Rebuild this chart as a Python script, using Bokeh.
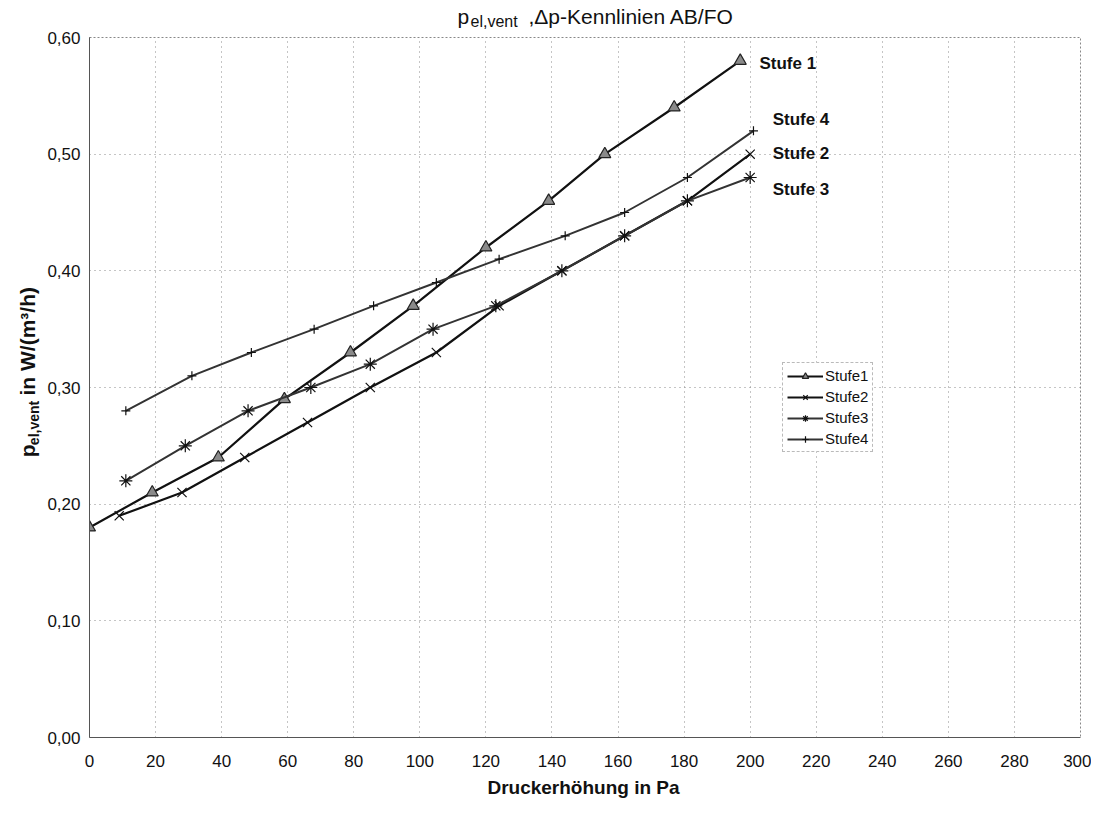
import math
from bokeh.plotting import figure
from bokeh.layouts import column, row
from bokeh.models import Range1d, Legend, LegendItem, CustomJSTickFormatter, FixedTicker, ColumnDataSource
from bokeh.core.properties import value
from bokeh.embed import file_html
from bokeh.resources import INLINE

# ---- data ----
x1 = [0, 19, 39, 59, 79, 98, 120, 139, 156, 177, 197]
y1 = [0.18, 0.21, 0.24, 0.29, 0.33, 0.37, 0.42, 0.46, 0.50, 0.54, 0.58]
x2 = [9, 28, 47, 66, 85, 105, 124, 143, 162, 181, 200]
y2 = [0.19, 0.21, 0.24, 0.27, 0.30, 0.33, 0.37, 0.40, 0.43, 0.46, 0.50]
x3 = [11, 29, 48, 67, 85, 104, 123, 143, 162, 181, 200]
y3 = [0.22, 0.25, 0.28, 0.30, 0.32, 0.35, 0.37, 0.40, 0.43, 0.46, 0.48]
x4 = [11, 31, 49, 68, 86, 105, 124, 144, 162, 181, 201]
y4 = [0.28, 0.31, 0.33, 0.35, 0.37, 0.39, 0.41, 0.43, 0.45, 0.48, 0.52]

series_names = ["Stufe1", "Stufe2", "Stufe3", "Stufe4"]
x_ticks = list(range(0, 301, 20))
y_ticks = [0.0, 0.1, 0.2, 0.3, 0.4, 0.5, 0.6]

end_labels = ["Stufe 1", "Stufe 4", "Stufe 2", "Stufe 3"]
end_label_x = [202.8, 206.8, 206.8, 206.8]
end_label_y = [0.578, 0.530, 0.501, 0.470]

title_main = "p"
title_sub = "el,vent"
title_rest = ",\u0394p-Kennlinien AB/FO"
ylab_main = "p"
ylab_sub = "el,vent"
ylab_rest = "in W/(m\u00b3/h)"
xlab = "Druckerh\u00f6hung in Pa"

FONT = "Liberation Sans"
TXT = "#111111"

W = 1091
TITLE_H = 29
MID_H = 747
XT_H = 22
YL_W = 44


def blank(w, h):
    f = figure(width=w, height=h, output_backend="svg", toolbar_location=None,
               x_range=Range1d(0, w), y_range=Range1d(0, h), min_border=0,
               x_axis_location=None, y_axis_location=None, title_location=None,
               background_fill_color="white", border_fill_color="white")
    f.grid.visible = False
    f.outline_line_color = None
    return f


# ---- main chart ----
p = figure(width=W - YL_W, height=MID_H, output_backend="svg", toolbar_location=None,
           x_range=Range1d(0, 300), y_range=Range1d(0, 0.6),
           min_border_left=45, min_border_right=11, min_border_top=8, min_border_bottom=39,
           title_location=None, background_fill_color="white", border_fill_color="white")

p.xaxis.ticker = FixedTicker(ticks=x_ticks)
p.yaxis.ticker = FixedTicker(ticks=y_ticks)
p.yaxis.formatter = CustomJSTickFormatter(code="return tick.toFixed(2).replace('.', ',');")
for ax in (p.xaxis, p.yaxis):
    ax.major_tick_out = 0
    ax.major_tick_in = 0
    ax.minor_tick_out = 0
    ax.minor_tick_in = 0
    ax.axis_line_color = "#555555"
    ax.axis_line_width = 1
    ax.major_label_text_font = FONT
    ax.major_label_text_font_size = "17px"
    ax.major_label_text_color = TXT
p.xaxis.major_label_standoff = 17
p.yaxis.major_label_standoff = 9

for g in (p.xgrid, p.ygrid):
    g.grid_line_color = "#8a8a8a"
    g.grid_line_dash = "1 4"
    g.grid_line_width = 1
p.outline_line_color = "#888888"
p.outline_line_dash = "2 2"

s1 = ColumnDataSource(dict(x=x1, y=y1))
s2 = ColumnDataSource(dict(x=x2, y=y2))
s3 = ColumnDataSource(dict(x=x3, y=y3))
s4 = ColumnDataSource(dict(x=x4, y=y4))

l1 = p.line("x", "y", source=s1, line_color="#111111", line_width=2.2)
m1 = p.scatter("x", "y", source=s1, marker="triangle", size=12, fill_color="#8a8a8a", line_color="#222222", line_width=1.2)
l2 = p.line("x", "y", source=s2, line_color="#111111", line_width=2.2)
m2 = p.scatter("x", "y", source=s2, marker="x", size=13, line_color="#111111", line_width=1.2)
l3 = p.line("x", "y", source=s3, line_color="#333333", line_width=2)
m3 = p.scatter("x", "y", source=s3, marker="asterisk", size=13, line_color="#111111", line_width=1.2)
l4 = p.line("x", "y", source=s4, line_color="#333333", line_width=2)
m4 = p.scatter("x", "y", source=s4, marker="cross", size=9, line_color="#111111", line_width=1.2)

legend = Legend(items=[
    LegendItem(label=series_names[0], renderers=[l1, m1]),
    LegendItem(label=series_names[1], renderers=[l2, m2]),
    LegendItem(label=series_names[2], renderers=[l3, m3]),
    LegendItem(label=series_names[3], renderers=[l4, m4]),
], location=(693, 285))
legend.label_text_font = FONT
legend.label_text_font_size = "15px"
legend.label_text_color = TXT
legend.glyph_width = 36
legend.glyph_height = 16
legend.label_height = 16
legend.spacing = 4
legend.padding = 4
legend.margin = 0
legend.label_standoff = 2
legend.border_line_color = "#777777"
legend.border_line_dash = "2 2"
legend.background_fill_color = "white"
legend.background_fill_alpha = 1
p.add_layout(legend, "center")

p.text(x=end_label_x, y=end_label_y, text=end_labels, text_font=value(FONT),
       text_font_size="17px", text_font_style="bold", text_baseline="middle",
       text_align="left", text_color=TXT)

# ---- title strip ----
t = blank(W, TITLE_H)
t.text(x=[457, 528], y=[13, 13], text=[title_main, title_rest], text_font=value(FONT),
       text_font_size="21px", text_baseline="middle", text_align="left", text_color=TXT)
t.text(x=[470], y=[8.5], text=[title_sub], text_font=value(FONT),
       text_font_size="16px", text_baseline="middle", text_align="left", text_color=TXT)

# ---- y label strip (rotated) ----
yl = blank(YL_W, MID_H)
yl.text(x=[27, 27], y=[299, 365], text=[ylab_main, ylab_rest], angle=math.pi / 2,
        text_font=value(FONT), text_font_size="21px", text_font_style="bold",
        text_baseline="middle", text_align="left", text_color=TXT)
yl.text(x=[33], y=[312], text=[ylab_sub], angle=math.pi / 2,
        text_font=value(FONT), text_font_size="14px", text_font_style="bold",
        text_baseline="middle", text_align="left", text_color=TXT)

# ---- x title strip ----
xt = blank(W, XT_H)
xt.text(x=[583], y=[11], text=[xlab], text_font=value(FONT), text_font_size="19px",
        text_font_style="bold", text_baseline="middle", text_align="center", text_color=TXT)

layout = column(t, row(yl, p), xt)
open("out.html", "w").write(file_html(layout, INLINE))
